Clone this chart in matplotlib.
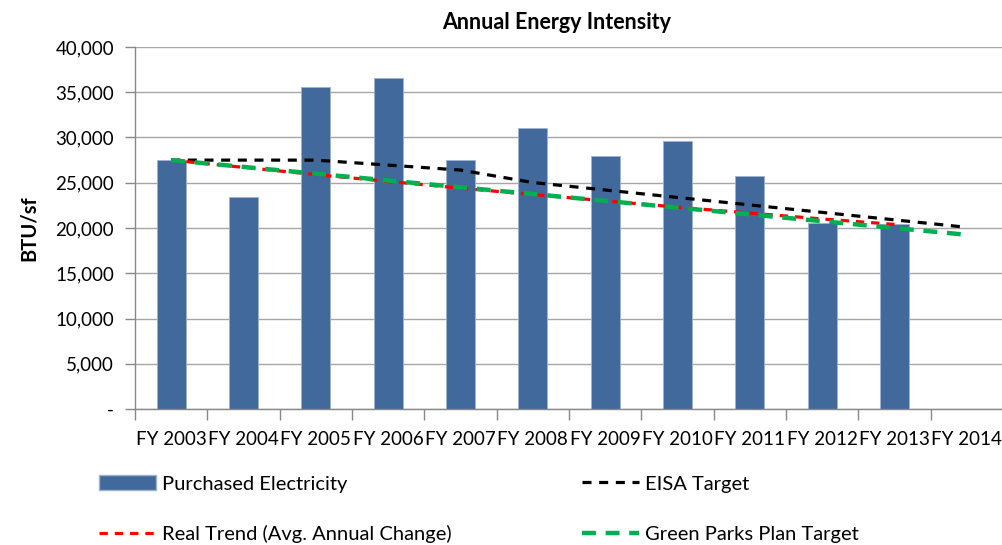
import matplotlib
matplotlib.use('Agg')
import matplotlib.pyplot as plt
from matplotlib.patches import Patch
from matplotlib.lines import Line2D
from matplotlib.ticker import FuncFormatter, FixedLocator

plt.rcParams['font.family'] = ['Lato', 'DejaVu Sans']
plt.rcParams['lines.scale_dashes'] = False

years = ['FY 2003', 'FY 2004', 'FY 2005', 'FY 2006', 'FY 2007', 'FY 2008',
         'FY 2009', 'FY 2010', 'FY 2011', 'FY 2012', 'FY 2013', 'FY 2014']
# BTU per square foot (FY 2014 has no reading yet)
purchased = [27500, 23400, 35600, 36600, 27500, 31100,
             27900, 29600, 25700, 20600, 20400, None]
eisa_target = [27500, 27500, 27500, 26950, 26400, 25025,
               24200, 23375, 22550, 21725, 20900, 20075]
real_trend = [27500, 26700, 25900, 25150, 24400, 23700,
              23000, 22300, 21650, 21000, 20400, None]
green_parks = [27500, 26750, 26000, 25250, 24500, 23750,
               23000, 22250, 21500, 20750, 20000, 19250]

bar_color = '#41699c'
grid_color = '#a6a6a6'

fig = plt.figure(figsize=(10.02, 5.45), dpi=100)
ax = fig.add_axes([0.1347, 0.2495, 0.8663, 0.6643])

x = list(range(len(years)))
bx = [i for i, v in zip(x, purchased) if v is not None]
bv = [v for v in purchased if v is not None]
ax.bar(bx, bv, width=0.40, color=bar_color, edgecolor='#9fb3cf', linewidth=0.6, zorder=2)

ax.plot(x, eisa_target, color='black', lw=2.3, dashes=(6.5, 5.5), zorder=3)
rx = [i for i, v in zip(x, real_trend) if v is not None]
rv = [v for v in real_trend if v is not None]
ax.plot(rx, rv, color='#ff0000', lw=2.3, dashes=(6, 5), zorder=4)
ax.plot(x, green_parks, color='#00b050', lw=3.2, dashes=(10, 7), zorder=5)

ax.set_xlim(-0.5, len(years) - 0.5)
ax.set_ylim(0, 40000)
ax.set_yticks(range(0, 40001, 5000))
ax.yaxis.set_major_formatter(FuncFormatter(lambda v, p: '-' if v == 0 else f'{int(v):,}'))
ax.yaxis.grid(True, color=grid_color, lw=1.0, zorder=0)
ax.set_axisbelow(True)

ax.set_xticks(x)
ax.set_xticklabels(years)
ax.xaxis.set_minor_locator(FixedLocator([i - 0.5 for i in x]))
ax.tick_params(axis='x', which='major', length=0, pad=16, labelsize=13.5, colors='black')
ax.tick_params(axis='x', which='minor', length=8, width=1, color='#888888', direction='out')
ax.tick_params(axis='y', length=7, width=1, color='#888888', pad=8, labelsize=13.5)

for side in ['top', 'right']:
    ax.spines[side].set_visible(False)
for side in ['left', 'bottom']:
    ax.spines[side].set_color('#888888')
    ax.spines[side].set_linewidth(1.0)

ax.set_ylabel('BTU/sf', fontsize=14.5, fontweight='bold', labelpad=12)
fig.text(0.556, 0.958, 'Annual Energy Intensity', ha='center', va='center',
         fontsize=15.5, fontweight='bold')

entries = [
    (Patch(facecolor=bar_color, edgecolor='#9fb3cf'), 'Purchased Electricity', 0.099, 0.112),
    (Line2D([], [], color='black', lw=2.3, dashes=(6.5, 5.5)), 'EISA Target', 0.581, 0.112),
    (Line2D([], [], color='#ff0000', lw=2.3, dashes=(6, 5)), 'Real Trend (Avg. Annual Change)', 0.099, 0.020),
    (Line2D([], [], color='#00b050', lw=3.2, dashes=(10, 7)), 'Green Parks Plan Target', 0.581, 0.020),
]
for handle, label, lx, ly in entries:
    fig.legend([handle], [label], loc='center left', bbox_to_anchor=(lx, ly),
               frameon=False, fontsize=14.5, handlelength=2.8, handleheight=0.7,
               handletextpad=0.3, borderpad=0, borderaxespad=0)

fig.savefig('out.png', dpi=100)
